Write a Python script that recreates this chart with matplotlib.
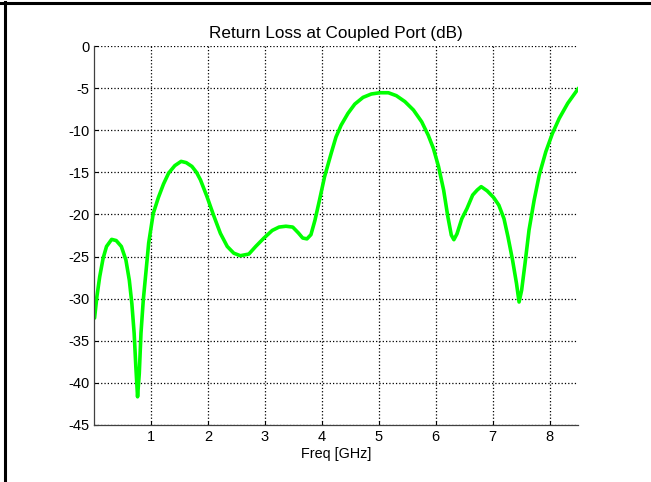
import matplotlib.pyplot as plt
from matplotlib.lines import Line2D

freq = [0.01, 0.05, 0.10, 0.16, 0.22, 0.31, 0.39, 0.48, 0.56, 0.62, 0.665, 0.705,
        0.735, 0.765, 0.795, 0.825, 0.865, 0.91, 0.96, 1.04, 1.13, 1.22, 1.31,
        1.42, 1.53, 1.62, 1.72, 1.80, 1.87, 1.985, 2.10, 2.22, 2.34, 2.455, 2.57,
        2.72, 2.84, 2.985, 3.13, 3.25, 3.37, 3.49, 3.59, 3.665, 3.74, 3.81, 3.88,
        3.96, 4.05, 4.165, 4.25, 4.34, 4.46, 4.58, 4.725, 4.87, 5.02, 5.17, 5.31,
        5.46, 5.61, 5.755, 5.87, 5.96, 6.05, 6.14, 6.215, 6.275, 6.32, 6.375, 6.46,
        6.55, 6.65, 6.73, 6.80, 6.905, 7.02, 7.11, 7.20, 7.27, 7.35, 7.42, 7.465,
        7.51, 7.57, 7.64, 7.73, 7.82, 7.935, 8.05, 8.17, 8.32, 8.51]
rl_db = [-32.3, -29.8, -27.4, -25.2, -23.8, -22.96, -23.1, -23.8, -25.4, -27.8, -30.6, -34.1,
         -38.1, -41.65, -38.9, -34.1, -30.2, -27.0, -23.4, -19.9, -18.0, -16.4, -15.1,
         -14.2, -13.7, -13.85, -14.3, -15.0, -15.9, -17.9, -20.1, -22.25, -23.8, -24.6, -24.9,
         -24.7, -23.8, -22.8, -21.9, -21.5, -21.4, -21.5, -22.2, -22.8, -22.9, -22.4, -20.7,
         -18.3, -15.5, -12.75, -10.8, -9.4, -8.0, -6.9, -6.1, -5.7, -5.55, -5.55, -5.9,
         -6.6, -7.6, -9.0, -10.6, -12.15, -14.3, -17.1, -20.3, -22.45, -23.0, -22.3, -20.5,
         -19.3, -17.7, -17.1, -16.7, -17.2, -18.0, -18.9, -20.5, -22.65, -25.4, -28.2, -30.4,
         -29.0, -25.8, -21.85, -18.3, -15.3, -12.55, -10.4, -8.6, -6.8, -5.0]
xticks = [1, 2, 3, 4, 5, 6, 7, 8]
yticks = [0, -5, -10, -15, -20, -25, -30, -35, -40, -45]

plt.rcParams['font.family'] = ['Liberation Sans', 'DejaVu Sans']

fig = plt.figure(figsize=(6.51, 4.82), dpi=100)
ax = fig.add_axes([94 / 651, 1 - 425 / 482, 484 / 651, 379 / 482])

ax.plot(freq, rl_db, color='#00ff00', lw=2.6, solid_joinstyle='round', solid_capstyle='round')

ax.set_xlim(0, 8.5)
ax.set_ylim(-45, 0)
ax.set_xticks(xticks)
ax.set_yticks(yticks)
ax.set_yticklabels([str(v) for v in yticks])
ax.tick_params(direction='in', length=3, labelsize=10.5, colors='black')
ax.grid(True, color='black', linestyle=':', linewidth=0.9)
ax.set_axisbelow(True)
for s in ['top', 'right']:
    ax.spines[s].set_visible(False)
for s in ['left', 'bottom']:
    ax.spines[s].set_color('#404040')
    ax.spines[s].set_linewidth(0.9)

ax.set_title('Return Loss at Coupled Port (dB)', fontsize=12.3, pad=6)
ax.set_xlabel('Freq [GHz]', fontsize=10.4, labelpad=2)

# outer frame of the screenshot (left and top edges)
fig.add_artist(Line2D([4.5 / 651, 4.5 / 651], [0, 1 - 2 / 482], color='black', lw=2.2))
fig.add_artist(Line2D([0, 1], [1 - 2.5 / 482, 1 - 2.5 / 482], color='black', lw=2.2))

fig.savefig('out.png', dpi=100)
